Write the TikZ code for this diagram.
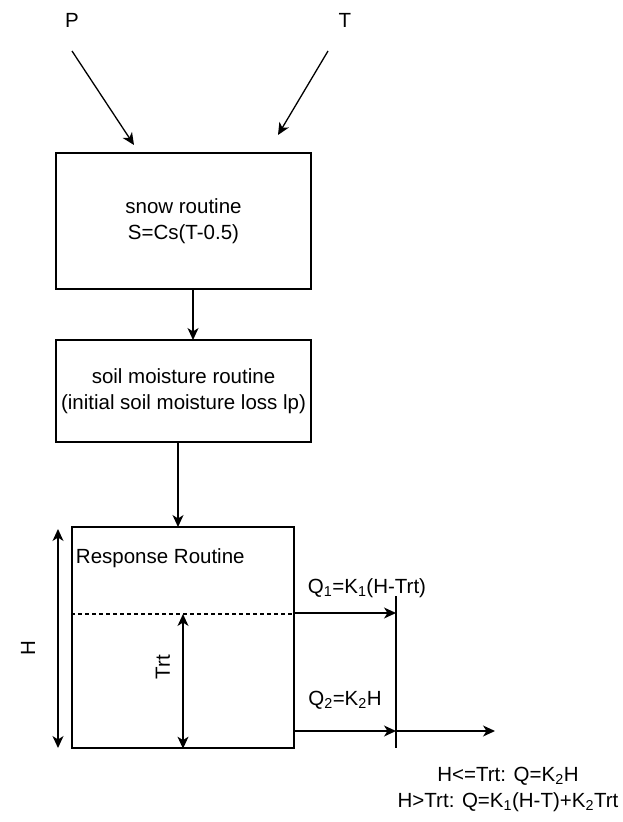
\documentclass[tikz,border=0pt]{standalone}
\usepackage{fontspec}
\setmainfont{Liberation Sans}
\usetikzlibrary{arrows.meta,positioning}
\tikzset{
  >={Stealth[length=12pt,width=11pt,inset=3.5pt]},
  routine/.style={draw,line width=1.3pt,align=center},
  lbl/.style={font=\fontsize{20.5}{26}\selectfont},
}

\begin{document}
\begin{tikzpicture}[x=1pt,y=-1pt,line width=1.3pt,lbl]
    \useasboundingbox (0,0) rectangle (622,822);
    % inputs
    \node (P) at (72,20) {P};
    \node (T) at (345,20) {T};
    \coordinate (p0) at (72,51);
    \coordinate (p1) at (134,145);
    \coordinate (t0) at (328,51);
    \coordinate (t1) at (278,135);
    % routines
    \node[routine,minimum width=255pt,minimum height=136pt] (snow) at (183.5,221)
      {snow routine\\S=Cs(T-0.5)};
    \node[routine,minimum width=255pt,minimum height=102pt] (soil) at (183.5,391)
      {soil moisture routine\\(initial soil moisture loss lp)};
    \node[routine,minimum width=222pt,minimum height=221pt] (resp) at (183,637.5) {};
    \node[anchor=west] (resptxt) at (72,558) {Response Routine};
    \coordinate (sn) at (193,289);
    \coordinate (so) at (193,340);
    \coordinate (sm) at (178,442);
    \coordinate (re) at (178,527);
    \begin{scope}[->]
      \draw (p0)--(p1);
      \draw (t0)--(t1);
      \draw (sn)--(so);
      \draw (sm)--(re);
    \end{scope}
    % storage levels
    \coordinate (thr) at (183,614);
    \coordinate (hup) at (58,529);
    \coordinate (hlo) at (58,748);
    \draw[dash pattern=on 4pt off 3pt] (resp.west |- thr)--(resp.east |- thr);
    \begin{scope}[<->]
      \draw (hup)--(hlo);
      \draw (thr)--(resp.south);
    \end{scope}
    \node[rotate=90] (H) at (28,648) {H};
    \node[rotate=90] (Trt) at (163,667) {Trt};
    % outflow
    \coordinate (o1) at (294,613);
    \coordinate (o2) at (294,731);
    \coordinate (q1) at (396,613);
    \coordinate (q2) at (396,731);
    \coordinate (qend) at (495,731);
    \draw (396,596)--(396,748);
    \begin{scope}[->]
      \draw (o1)--(q1);
      \draw (o2)--(q2);
      \draw (q2)--(qend);
    \end{scope}
    \node (Q1) at (367,588) {Q\textsubscript{1}=K\textsubscript{1}(H-Trt)};
    \node (Q2) at (345,700) {Q\textsubscript{2}=K\textsubscript{2}H};
    \node[align=center] (rule) at (508,789)
      {H<=Trt: Q=K\textsubscript{2}H\\H>Trt: Q=K\textsubscript{1}(H-T)+K\textsubscript{2}Trt};
  \end{tikzpicture}
\end{document}
